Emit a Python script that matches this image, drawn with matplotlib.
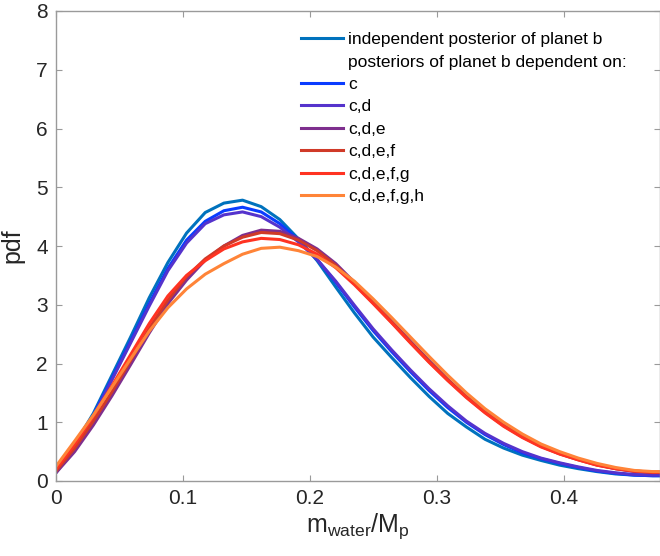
import matplotlib
matplotlib.use("Agg")
import matplotlib.pyplot as plt
from matplotlib.lines import Line2D

plt.rcParams['font.family'] = ['Liberation Sans', 'DejaVu Sans']

# water mass fraction grid
x_grid = [0.0, 0.0147, 0.0294, 0.0441, 0.0588, 0.0735, 0.0882, 0.1029, 0.1176, 0.1323,
          0.1470, 0.1617, 0.1764, 0.1911, 0.2058, 0.2205, 0.2352, 0.2499, 0.2646, 0.2793,
          0.2940, 0.3087, 0.3234, 0.3381, 0.3528, 0.3675, 0.3822, 0.3969, 0.4116, 0.4263,
          0.4410, 0.4557, 0.4704, 0.4851]

pdf_independent = [0.17, 0.62, 1.15, 1.80, 2.45, 3.12, 3.72, 4.22, 4.57, 4.73,
                   4.78, 4.67, 4.45, 4.12, 3.75, 3.30, 2.86, 2.45, 2.10, 1.76,
                   1.44, 1.15, 0.92, 0.71, 0.56, 0.44, 0.35, 0.27, 0.21, 0.16,
                   0.12, 0.10, 0.09, 0.09]
pdf_c = [0.15, 0.58, 1.12, 1.75, 2.38, 3.02, 3.62, 4.10, 4.42, 4.60,
         4.66, 4.58, 4.38, 4.10, 3.77, 3.38, 2.96, 2.56, 2.20, 1.86,
         1.54, 1.25, 1.00, 0.79, 0.62, 0.48, 0.38, 0.30, 0.23, 0.17,
         0.13, 0.10, 0.09, 0.09]
pdf_cd = [0.14, 0.57, 1.10, 1.72, 2.35, 2.98, 3.58, 4.05, 4.38, 4.53,
          4.58, 4.50, 4.32, 4.07, 3.77, 3.40, 2.99, 2.59, 2.23, 1.89,
          1.57, 1.28, 1.02, 0.81, 0.64, 0.50, 0.39, 0.31, 0.24, 0.18,
          0.14, 0.11, 0.10, 0.10]
pdf_cde = [0.14, 0.50, 0.95, 1.45, 1.98, 2.52, 3.02, 3.42, 3.76, 4.00,
           4.18, 4.27, 4.25, 4.13, 3.95, 3.70, 3.38, 3.05, 2.72, 2.38,
           2.05, 1.73, 1.44, 1.18, 0.95, 0.76, 0.60, 0.47, 0.37, 0.28,
           0.21, 0.16, 0.14, 0.14]
pdf_cdef = [0.17, 0.56, 1.02, 1.52, 2.05, 2.60, 3.08, 3.48, 3.78, 4.00,
            4.15, 4.23, 4.21, 4.10, 3.92, 3.67, 3.36, 3.03, 2.70, 2.36,
            2.03, 1.72, 1.43, 1.17, 0.94, 0.75, 0.59, 0.46, 0.36, 0.27,
            0.21, 0.17, 0.15, 0.15]
pdf_cdefg = [0.20, 0.62, 1.10, 1.62, 2.15, 2.68, 3.15, 3.50, 3.75, 3.95,
             4.07, 4.13, 4.11, 4.02, 3.86, 3.63, 3.34, 3.02, 2.69, 2.35,
             2.02, 1.71, 1.42, 1.16, 0.93, 0.74, 0.58, 0.46, 0.36, 0.27,
             0.21, 0.17, 0.15, 0.15]
pdf_cdefgh = [0.25, 0.68, 1.12, 1.60, 2.08, 2.55, 2.95, 3.27, 3.52, 3.70,
              3.86, 3.96, 3.98, 3.92, 3.82, 3.64, 3.40, 3.10, 2.78, 2.45,
              2.12, 1.80, 1.50, 1.23, 1.00, 0.80, 0.63, 0.50, 0.39, 0.30,
              0.23, 0.18, 0.16, 0.16]

series_labels = ['independent posterior of planet b', 'c', 'c,d', 'c,d,e',
                 'c,d,e,f', 'c,d,e,f,g', 'c,d,e,f,g,h']
series_values = [pdf_independent, pdf_c, pdf_cd, pdf_cde, pdf_cdef, pdf_cdefg, pdf_cdefgh]
series_colors = ['#0072BD', '#0A3CFF', '#5533CC', '#7E2F8E', '#D03A28', '#FF3322', '#FF8438']
header_label = 'posteriors of planet b dependent on:'

x_ticks = [0, 0.1, 0.2, 0.3, 0.4]
x_ticklabels = ['0', '0.1', '0.2', '0.3', '0.4']
y_ticks = [0, 1, 2, 3, 4, 5, 6, 7, 8]

fig = plt.figure(figsize=(6.6, 5.56), dpi=100)
ax = fig.add_axes([56 / 660, 75 / 556, 603.5 / 660, 470 / 556])

handles = []
for vals, col in zip(series_values, series_colors):
    h, = ax.plot(x_grid, vals, color=col, lw=2.2, solid_joinstyle='round')
    handles.append(h)

ax.set_xlim(0, 0.4756)
ax.set_ylim(0, 8)
ax.set_xticks(x_ticks)
ax.set_xticklabels(x_ticklabels)
ax.set_yticks(y_ticks)

axis_grey = '#9a9a9a'
for sp in ax.spines.values():
    sp.set_color(axis_grey)
    sp.set_linewidth(1.0)
ax.tick_params(direction='in', length=4, width=0.8, color=axis_grey,
               labelsize=15, labelcolor='#262626', top=True, right=True, pad=6)

ax.set_xlabel(r'm$_{\mathregular{water}}$/M$_{\mathregular{p}}$', fontsize=18, color='#262626', labelpad=2)
ax.set_ylabel('pdf', fontsize=18, color='#262626', labelpad=8)

blank = Line2D([], [], color='none')
leg_handles = [handles[0], blank] + handles[1:]
leg_labels = [series_labels[0], header_label] + series_labels[1:]
ax.legend(leg_handles, leg_labels, loc='upper left',
          bbox_to_anchor=(301 / 660, 1 - 32 / 556), bbox_transform=fig.transFigure,
          frameon=False, fontsize=12.5, handlelength=2.4, handletextpad=0.3,
          labelspacing=0.42, borderpad=0, borderaxespad=0)

fig.savefig('out.png', dpi=100)
